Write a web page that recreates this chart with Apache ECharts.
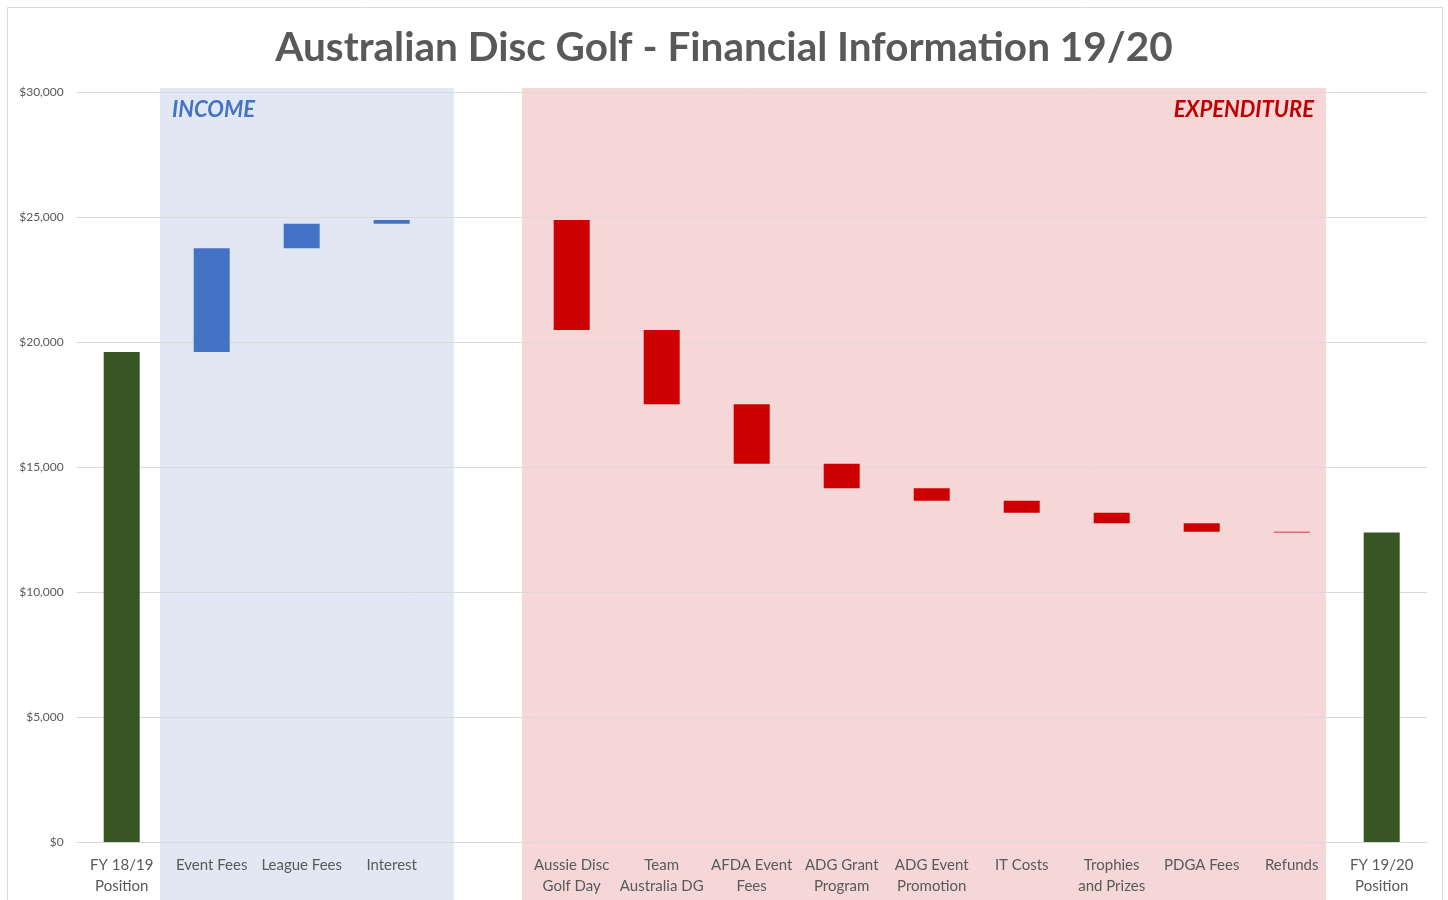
<!DOCTYPE html>
<html>
<head>
<meta charset="utf-8">
<title>Australian Disc Golf - Financial Information 19/20</title>
<script src="https://cdn.jsdelivr.net/npm/echarts@6/dist/echarts.min.js"></script>
<style>
  html, body { margin: 0; padding: 0; background: #fff; }
  #chart { width: 1448px; height: 900px; }
</style>
</head>
<body>
<div id="chart"></div>
<script>
// Chart data
const categories = [
  "FY 18/19\nPosition", "Event Fees", "League Fees", "Interest", "",
  "Aussie Disc\nGolf Day", "Team\nAustralia DG", "AFDA Event\nFees", "ADG Grant\nProgram",
  "ADG Event\nPromotion", "IT Costs", "Trophies\nand Prizes", "PDGA Fees", "Refunds",
  "FY 19/20\nPosition"
];
const openingBalance = 19600;
const incomeValues = [4150, 980, 150];
const expenseValues = [4400, 2970, 2380, 980, 500, 480, 420, 340, 30];
const closingBalance = 12380;
const yTicks = [0, 5000, 10000, 15000, 20000, 25000, 30000];

// Build the stacked series: invisible base + visible step
const base = [0];
const income = [null];
const expense = [null];
const position = [openingBalance];
let running = openingBalance;
incomeValues.forEach(v => {
  base.push(running);
  income.push(v);
  expense.push(null);
  position.push(null);
  running += v;
});
// empty gap category
base.push(null); income.push(null); expense.push(null); position.push(null);
expenseValues.forEach(v => {
  running -= v;
  base.push(running);
  income.push(null);
  expense.push(v);
  position.push(null);
});
base.push(0); income.push(null); expense.push(null); position.push(closingBalance);

const FONT = "Lato";
const chart = echarts.init(document.getElementById("chart"));

const option = {
  animation: false,
  backgroundColor: "#fff",
  title: {
    text: "Australian Disc Golf - Financial Information 19/20",
    left: "center",
    top: 22,
    textStyle: { fontFamily: FONT, fontSize: 40.5, fontWeight: "bold", color: "#595959" }
  },
  grid: { left: 76.7, right: 21.3, top: 92, bottom: 58, containLabel: false },
  xAxis: {
    type: "category",
    data: categories,
    axisLine: { show: true, lineStyle: { color: "#d9d9d9" } },
    axisTick: { show: false },
    axisLabel: {
      interval: 0,
      margin: 13,
      fontFamily: FONT,
      fontSize: 15,
      lineHeight: 21,
      color: "#595959"
    }
  },
  yAxis: {
    type: "value",
    min: yTicks[0],
    max: yTicks[yTicks.length - 1],
    interval: yTicks[1] - yTicks[0],
    axisLine: { show: false },
    axisTick: { show: false },
    splitLine: { lineStyle: { color: "#d9d9d9" } },
    axisLabel: {
      margin: 13,
      fontFamily: FONT,
      fontSize: 12,
      color: "#595959",
      formatter: v => "$" + v.toLocaleString("en-US")
    }
  },
  series: [
    {
      name: "base", type: "bar", stack: "total", data: base,
      barWidth: "40%", silent: true,
      itemStyle: { color: "transparent" }
    },
    {
      name: "Income", type: "bar", stack: "total", data: income,
      itemStyle: { color: "#4472c4" }
    },
    {
      name: "Expenditure", type: "bar", stack: "total", data: expense,
      itemStyle: { color: "#cc0000" }
    },
    {
      name: "Position", type: "bar", stack: "total", data: position,
      itemStyle: { color: "#375623" }
    }
  ]
};
chart.setOption(option);

// Shaded INCOME / EXPENDITURE panels, placed from the category positions
const cx = i => chart.convertToPixel({ xAxisIndex: 0 }, i);
const step = cx(1) - cx(0);
const topY = chart.convertToPixel({ yAxisIndex: 0 }, 30000) - 4;

const incLeft = cx(1) - 0.574 * step;
const incRight = cx(3) + 0.69 * step;
const expLeft = cx(5) - 0.552 * step;
const expRight = cx(13) + 0.381 * step;

chart.setOption({
  graphic: [
    {
      type: "rect", z: -1, silent: true,
      shape: { x: incLeft, y: topY, width: incRight - incLeft, height: 920 - topY },
      style: { fill: "#e1e7f3" }
    },
    {
      type: "rect", z: -1, silent: true,
      shape: { x: expLeft, y: topY, width: expRight - expLeft, height: 920 - topY },
      style: { fill: "#f5d7d8" }
    },
    {
      type: "text", z: 3,
      x: incLeft + 12, y: topY + 11,
      style: {
        text: "INCOME", fill: "#4472c4",
        font: "italic bold 22px " + FONT
      }
    },
    {
      type: "text", z: 3,
      x: expRight - 12, y: topY + 11,
      style: {
        text: "EXPENDITURE", fill: "#c00000", align: "right",
        font: "italic bold 22px " + FONT
      }
    },
    {
      // outer chart frame
      type: "rect", z: 0, silent: true,
      shape: { x: 7.5, y: 7.5, width: 1435, height: 920 },
      style: { fill: null, stroke: "#d9d9d9", lineWidth: 1 }
    }
  ]
});
</script>
</body>
</html>
